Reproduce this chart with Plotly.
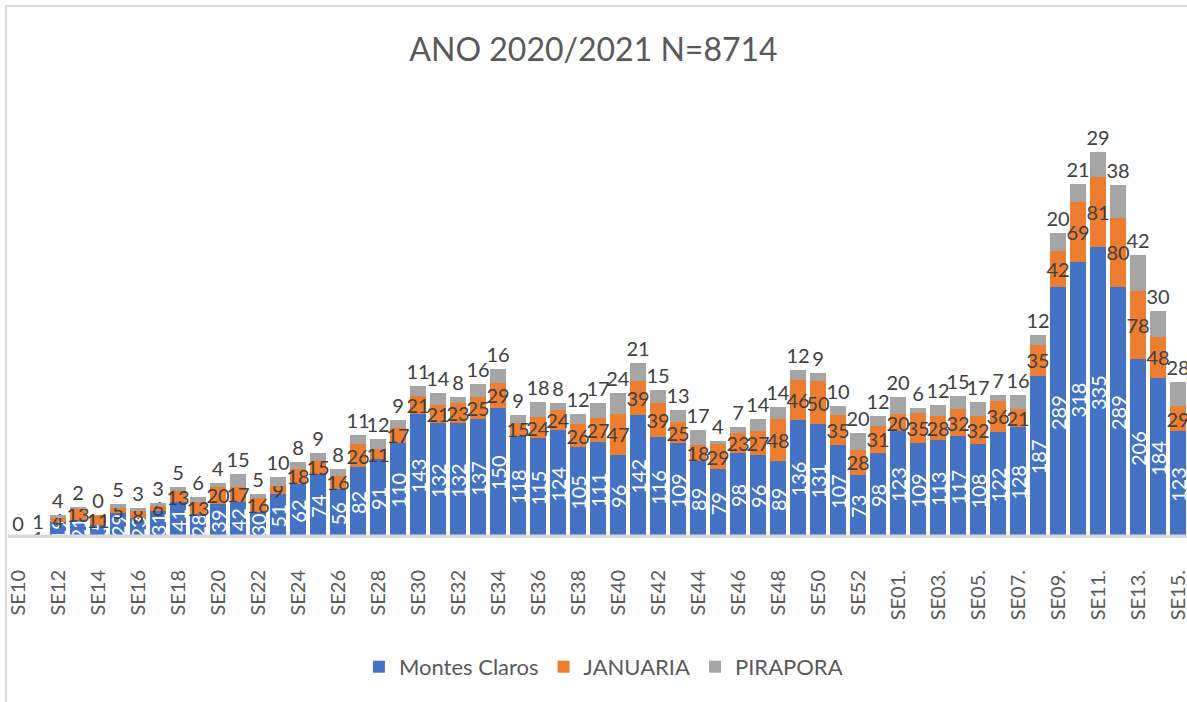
import plotly.graph_objects as go

categories = (
    ["SE%02d" % w for w in range(10, 54)] +
    ["SE%02d." % w for w in range(1, 16)]
)

montes_claros = [0, 0, 19, 21, 15, 29, 23, 31, 41, 28,
                 39, 42, 30, 51, 62, 74, 56, 82, 91, 110,
                 143, 132, 132, 137, 150, 118, 115, 124, 105, 111,
                 96, 142, 116, 109, 89, 79, 98, 96, 89, 136,
                 131, 107, 73, 98, 123, 109, 113, 117, 108, 122,
                 128, 187, 289, 318, 335, 289, 206, 184, 123]

januaria = [0, 1, 4, 13, 11, 5, 8, 6, 13, 13,
            20, 17, 16, 9, 18, 15, 16, 26, 11, 17,
            21, 21, 23, 25, 29, 15, 24, 24, 26, 27,
            47, 39, 39, 25, 18, 29, 23, 27, 48, 46,
            50, 35, 28, 31, 20, 35, 28, 32, 32, 36,
            21, 35, 42, 69, 81, 80, 78, 48, 29]

pirapora = [0, 1, 4, 2, 0, 5, 3, 3, 5, 6,
            4, 15, 5, 10, 8, 9, 8, 11, 12, 9,
            11, 14, 8, 16, 16, 9, 18, 8, 12, 17,
            24, 21, 15, 13, 17, 4, 7, 14, 14, 12,
            9, 10, 20, 12, 20, 6, 12, 15, 17, 7,
            16, 12, 20, 21, 29, 38, 42, 30, 28]

title_text = "ANO 2020/2021 N=8714"
FONT = "Lato, Open Sans, sans-serif"
LABEL_DARK = "#404040"
GREY_TEXT = "#595959"

fig = go.Figure()
fig.add_trace(go.Bar(
    name="Montes Claros", x=categories, y=montes_claros,
    marker=dict(color="#4472C4", line=dict(width=0)),
    text=montes_claros, textposition="inside", textangle=-90,
    insidetextanchor="middle", constraintext="none",
    textfont=dict(family=FONT, size=20, color="white"),
))
fig.add_trace(go.Bar(
    name="JANUARIA", x=categories, y=januaria,
    marker=dict(color="#ED7D31", line=dict(width=0)),
    text=januaria, textposition="inside", textangle=0,
    insidetextanchor="middle", constraintext="none",
    textfont=dict(family=FONT, size=20, color=LABEL_DARK),
))
fig.add_trace(go.Bar(
    name="PIRAPORA", x=categories, y=pirapora,
    marker=dict(color="#A5A5A5", line=dict(width=0)),
    text=pirapora, textposition="outside", textangle=0,
    constraintext="none", cliponaxis=False,
    textfont=dict(family=FONT, size=20, color=LABEL_DARK),
))

fig.update_layout(
    width=1187, height=702, autosize=False,
    barmode="stack", bargap=0.22,
    paper_bgcolor="white", plot_bgcolor="white",
    margin=dict(l=8, r=0, t=104, b=164, pad=0, autoexpand=False),
    title=dict(text=title_text, x=0.5, xanchor="center", y=1 - 50 / 702,
               yanchor="middle", yref="container", automargin=False,
               font=dict(family=FONT, size=32, color=GREY_TEXT)),
    showlegend=True,
    legend=dict(orientation="h", x=0.505, xanchor="center",
                y=-0.297, yanchor="middle", traceorder="normal",
                font=dict(family=FONT, size=22, color=GREY_TEXT)),
    xaxis=dict(type="category", range=[-0.5, 58.45], automargin=False,
               tickmode="array", tickvals=categories[::2], ticktext=categories[::2],
               tickangle=-90, ticks="", showgrid=False, zeroline=False,
               showline=False, ticklabelstandoff=27,
               tickfont=dict(family=FONT, size=20, color=GREY_TEXT)),
    yaxis=dict(range=[0, 500], showticklabels=False, showgrid=False,
               zeroline=False, showline=False, ticks="", automargin=False),
    shapes=[
        dict(type="line", xref="paper", yref="y", x0=0, x1=1, y0=0, y1=0,
             line=dict(color="#D9D9D9", width=7), layer="above"),
        dict(type="rect", xref="paper", yref="paper",
             x0=-0.0017, x1=1.05, y0=-0.45, y1=1.2258,
             line=dict(color="#D9D9D9", width=2), layer="below"),
    ],
)

fig.write_html("out.html",
               config={"displayModeBar": False},
               post_script="document.body.style.margin='0px';document.body.style.overflow='hidden';")
